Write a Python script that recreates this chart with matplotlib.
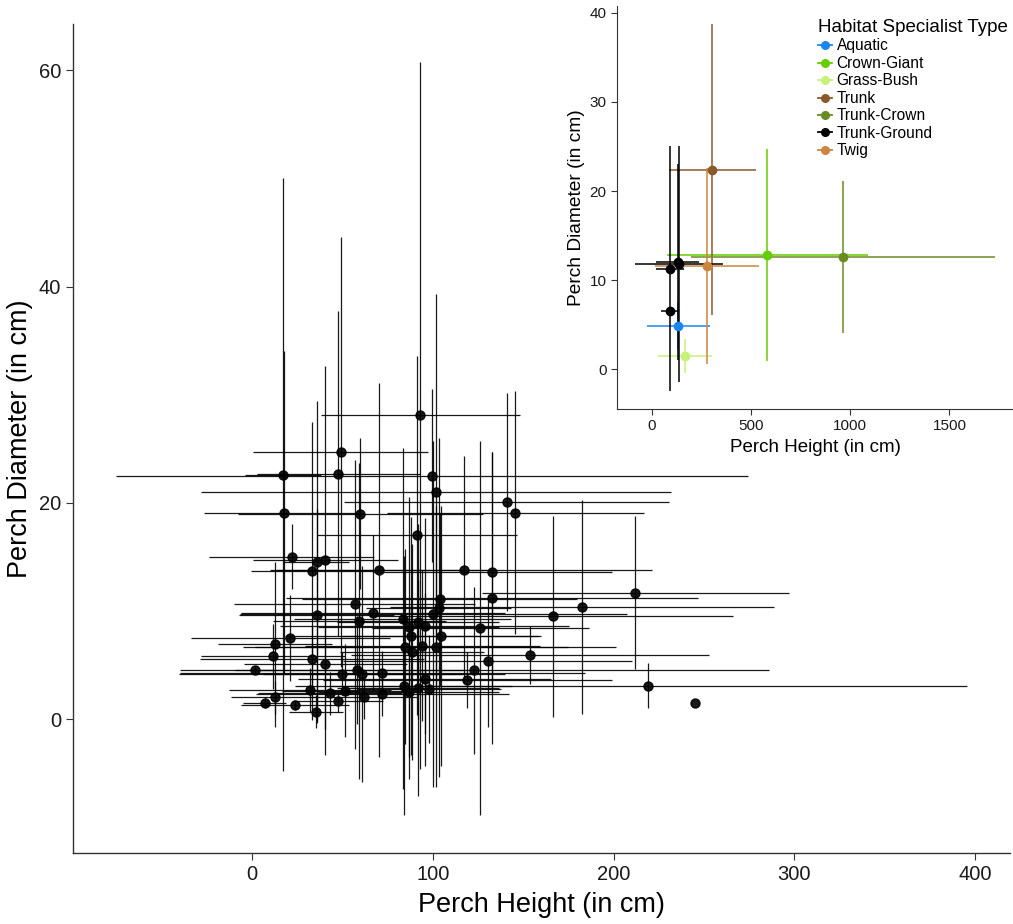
import matplotlib.pyplot as plt
from matplotlib.lines import Line2D

plt.rcParams['font.family'] = ['Liberation Sans', 'DejaVu Sans']

# main panel: mean perch height / diameter per species, with sd
height = [93.2, 49.0, 17.1, 47.7, 99.5, 101.7, 17.6, 60.0, 91.2, 21.9,
          35.8, 40.5, 33.4, 70.0, 117.4, 133.0, 140.8, 145.7, 133.0, 103.8,
          103.3, 56.8, 35.8, 66.7, 59.4, 83.4, 100.3, 86.7, 95.6, 91.9,
          126.3, 21.2, 88.0, 104.7, 12.6, 84.9, 94.3, 88.6, 101.6, 11.5,
          33.4, 130.4, 40.5, 1.5, 49.8, 58.1, 60.9, 72.0, 122.9, 119.1,
          95.6, 84.0, 86.7, 91.9, 97.9, 32.1, 43.1, 51.4, 72.0, 61.7,
          47.4, 12.8, 6.9, 23.8, 35.3, 212.1, 182.6, 166.3, 153.6, 219.3,
          245.3]
diameter = [28.1, 24.7, 22.6, 22.7, 22.5, 21.0, 19.1, 19.0, 17.0, 15.0,
            14.5, 14.7, 13.7, 13.8, 13.8, 13.6, 20.1, 19.1, 11.2, 11.1,
            10.3, 10.6, 9.6, 9.8, 9.1, 9.3, 9.7, 8.5, 8.6, 9.0,
            8.4, 7.5, 7.7, 7.7, 6.9, 6.7, 6.8, 6.2, 6.7, 5.8,
            5.6, 5.4, 5.1, 4.5, 4.2, 4.5, 4.2, 4.3, 4.5, 3.6,
            3.7, 3.1, 2.5, 2.9, 2.8, 2.7, 2.4, 2.6, 2.3, 2.0,
            1.7, 2.0, 1.5, 1.3, 0.7, 11.7, 10.4, 9.5, 5.9, 3.1,
            1.5]
height_sd = [55, 48.5, 21, 45, 175, 130, 44, 68, 55.5, 45.7,
             18, 40, 34, 60, 104, 66, 90, 71, 114, 76,
             40, 66.7, 43, 73, 48, 60, 107, 50, 80, 45,
             60, 55, 70, 55, 31.4, 90, 65, 40, 100, 40,
             62, 80, 45, 11, 90, 60, 55, 112, 163, 80,
             70, 60, 50, 45, 40, 45, 40, 35, 70, 30,
             25, 24.5, 12, 30, 15, 85, 106, 100, 99, 176.5,
             0]
diameter_sd = [32.7, 19.9, 27.4, 15, 8, 18.3, 14.9, 7, 16.6, 3,
               14.9, 18, 13.8, 17.3, 10.5, 11.1, 10.1, 11.2, 13.5, 8,
               15.7, 13.4, 9.8, 7.2, 14.6, 15.8, 16, 12, 10, 9,
               17.3, 4, 11, 12, 7.6, 9, 7, 10, 13, 3,
               3, 6.1, 6, 0.3, 2, 5, 10, 2, 7.7, 2.6,
               8, 12, 8, 10, 5, 2, 2, 4.3, 2, 2,
               1, 1.5, 0.5, 0.5, 1.5, 7.1, 9.9, 9.3, 2.7, 2.1,
               0]

# inset: habitat specialist groups
groups = ['Aquatic', 'Crown-Giant', 'Grass-Bush', 'Trunk', 'Trunk-Crown',
          'Trunk-Ground', 'Twig']
group_colors = ['#1C86EE', '#66CD00', '#C6F27A', '#8B5A2B', '#698B22',
                '#000000', '#CD853F']
g_type = ['Aquatic', 'Crown-Giant', 'Grass-Bush', 'Trunk', 'Trunk-Crown',
          'Trunk-Ground', 'Trunk-Ground', 'Trunk-Ground', 'Trunk-Ground', 'Twig']
g_height = [133, 580, 167, 303, 963, 92, 129, 137, 92, 277]
g_diameter = [4.9, 12.8, 1.5, 22.4, 12.6, 11.3, 12.0, 11.8, 6.5, 11.6]
g_height_sd = [157, 507, 135, 219, 767, 71, 109, 223, 46, 262]
g_diameter_sd = [2.6, 11.9, 1.9, 16.3, 8.5, 13.7, 11, 13.2, 0.5, 11]

W, H = 1013, 924
fig = plt.figure(figsize=(W / 100, H / 100), dpi=100)

ax = fig.add_axes([73 / W, 1 - 853 / H, (1010 - 73) / W, (853 - 24) / H])
ax.errorbar(height, diameter, xerr=height_sd, yerr=diameter_sd, fmt='o',
            color='black', ms=6.5, elinewidth=0.9, capsize=0, alpha=0.9)
ax.margins(0.05)
ax.set_xticks([0, 100, 200, 300, 400])
ax.set_yticks([0, 20, 40, 60])
ax.set_xlabel('Perch Height (in cm)', fontsize=19.5, labelpad=6)
ax.set_ylabel('Perch Diameter (in cm)', fontsize=19.5, labelpad=4)
for s in ['top', 'right']:
    ax.spines[s].set_visible(False)
for s in ['left', 'bottom']:
    ax.spines[s].set_color('#333333')
    ax.spines[s].set_linewidth(1)
ax.tick_params(labelsize=14.5, length=5, color='#333333', labelcolor='#1a1a1a')

# inset
ax2 = fig.add_axes([617 / W, 1 - 409 / H, (W - 617) / W, (409 - 6) / H])
ax2.set_facecolor('white')
for i in range(len(g_type)):
    c = group_colors[groups.index(g_type[i])]
    ax2.errorbar(g_height[i], g_diameter[i], xerr=g_height_sd[i],
                 yerr=g_diameter_sd[i], fmt='o', color=c, ms=6,
                 elinewidth=1.1, capsize=0)
ax2.margins(0.05)
ax2.set_xticks([0, 500, 1000, 1500])
ax2.set_yticks([0, 10, 20, 30, 40])
ax2.set_xlabel('Perch Height (in cm)', fontsize=13.5, labelpad=4)
ax2.set_ylabel('Perch Diameter (in cm)', fontsize=13.8, labelpad=3)
for s in ['top', 'right']:
    ax2.spines[s].set_visible(False)
for s in ['left', 'bottom']:
    ax2.spines[s].set_color('#333333')
ax2.tick_params(labelsize=11, length=4, color='#333333', labelcolor='#1a1a1a')

handles = [Line2D([0], [0], color=c, marker='o', ms=5.5, lw=1.3)
           for c in group_colors]
ax2.legend(handles, groups, title='Habitat Specialist Type', loc='upper left',
           bbox_to_anchor=(818 / W, 1 - 19 / H), bbox_transform=fig.transFigure,
           frameon=False, fontsize=11.2, title_fontsize=13.5, alignment='left',
           handlelength=0.9, handletextpad=0.3, labelspacing=0.16,
           borderpad=0, borderaxespad=0)

fig.savefig('out.png', dpi=100)
